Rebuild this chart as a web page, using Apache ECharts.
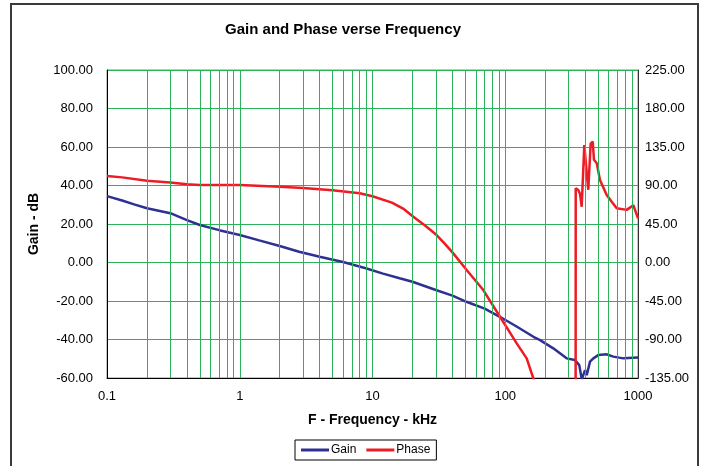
<!DOCTYPE html>
<html>
<head>
<meta charset="utf-8">
<script src="https://cdn.jsdelivr.net/npm/echarts@6/dist/echarts.min.js"></script>
<style>html,body{margin:0;padding:0;background:#fff}#c{width:702px;height:466px}</style>
</head>
<body>
<div id="c"></div>
<script>
const chartTitle = 'Gain and Phase verse Frequency';
const xName = 'F - Frequency - kHz';
const yName = 'Gain - dB';
const minorGrid = [0.2,0.3,0.4,0.5,0.6,0.7,0.8,0.9,1,2,3,4,5,6,7,8,9,10,20,30,40,50,60,70,80,90,100,200,300,400,500,600,700,800,900];

const gainFreq = [0.1, 0.13, 0.16, 0.2, 0.25, 0.3, 0.4, 0.5, 0.7, 1, 1.4, 2, 2.8, 4, 6, 8.9, 12, 16, 20, 30, 40, 51, 70, 91, 120, 163, 183, 230, 290, 335, 361, 377, 399, 411, 435, 461, 502, 581, 652, 775, 1000];
const gainDb   = [34.5, 32.2, 30.2, 28.2, 26.8, 25.6, 22.0, 19.5, 16.8, 14.3, 11.5, 8.6, 5.6, 3.0, 0.3, -3.0, -5.8, -8.2, -10.0, -14.3, -17.2, -20.4, -24.0, -28.2, -33.0, -38.6, -40.3, -44.6, -49.8, -50.7, -53.3, -60.7, -55.9, -58.5, -51.5, -49.8, -48.1, -47.7, -48.9, -49.8, -49.3];

const phaseFreq = [0.1, 0.13, 0.2, 0.3, 0.4, 0.5, 1, 2, 3, 5, 8, 10, 14, 17, 20.3, 25, 30.4, 35, 40.6, 51.2, 68.3, 91.3, 122, 145, 162.7, 166, 339, 339.5, 355, 366, 376.6, 394, 406, 422, 440, 456, 466, 489, 517, 581, 634, 691, 822, 922, 1000];
const phaseDeg  = [101.1, 99.5, 95.6, 93.5, 91.5, 90.6, 90.6, 88.5, 87.2, 84.5, 80.9, 77.5, 70.0, 63.0, 53.5, 43.0, 32.1, 22.0, 10.7, -8.8, -32.2, -63.4, -94.5, -112, -135.3, -140, -140, 86.7, 84.7, 80.0, 65.2, 137.3, 139.0, 85.0, 139.0, 141.2, 120.0, 116.0, 96.4, 79.0, 71.0, 63.4, 61.5, 67.0, 51.7];
const phaseGapAfter = 166; // phase runs off-scale between 166 and 339 kHz

const gainData = gainFreq.map((f, i) => [f, gainDb[i]]);
const phaseData = [];
phaseFreq.forEach((f, i) => {
  phaseData.push([f, phaseDeg[i]]);
  if (f === phaseGapAfter) phaseData.push([f, '-']);
});

const FONT = 'Liberation Sans, Arial, sans-serif';
const green = '#2cb25a';
const chart = echarts.init(document.getElementById('c'));
chart.setOption({
  animation: false,
  backgroundColor: '#fff',
  textStyle: { fontFamily: FONT },
  graphic: [
    { type: 'rect', shape: { x: 11, y: 4, width: 687, height: 480 }, style: { fill: 'none', stroke: '#3a3a3a', lineWidth: 2 }, silent: true, z: -10 },
    { type: 'text', x: 343, y: 30, style: { text: chartTitle, fontSize: 15, fontWeight: 'bold', fontFamily: FONT, fill: '#000', align: 'center', verticalAlign: 'middle' } }
  ],
  grid: { left: 107, top: 70, right: 64, bottom: 88, show: true, borderColor: '#8a8a8a', borderWidth: 1 },
  legend: {
    data: ['Gain', 'Phase'],
    top: 440,
    left: 295,
    itemWidth: 28,
    itemHeight: 3,
    itemGap: 10,
    icon: 'rect',
    borderColor: '#000',
    borderWidth: 1,
    padding: [4, 6, 4, 6],
    borderRadius: 0,
    textStyle: { fontSize: 12, color: '#000', fontFamily: FONT, padding: [0, 0, 0, -3] }
  },
  xAxis: {
    type: 'log', logBase: 10, min: 0.1, max: 1000,
    name: xName, nameLocation: 'middle', nameGap: 35,
    nameTextStyle: { fontSize: 14, fontWeight: 'bold', color: '#000' },
    axisLine: { show: true, onZero: false, lineStyle: { color: '#000', width: 1 } },
    axisTick: { show: false },
    splitLine: { show: false },
    axisLabel: { fontSize: 13, color: '#000', margin: 12, formatter: v => String(+v.toPrecision(3)) }
  },
  yAxis: [
    {
      type: 'value', min: -60, max: 100, interval: 20,
      name: yName, nameLocation: 'middle', nameGap: 66,
      nameTextStyle: { fontSize: 14, fontWeight: 'bold', color: '#000' },
      axisLine: { show: true, lineStyle: { color: '#000', width: 1 } },
      axisTick: { show: false },
      splitLine: { show: true, lineStyle: { color: green, width: 1 } },
      axisLabel: { fontSize: 13, color: '#000', margin: 14, formatter: v => v.toFixed(2) }
    },
    {
      type: 'value', min: -135, max: 225, interval: 45,
      axisLine: { show: true, lineStyle: { color: '#333', width: 1 } },
      axisTick: { show: false },
      splitLine: { show: false },
      axisLabel: { fontSize: 13, color: '#000', margin: 7, formatter: v => v.toFixed(2) }
    }
  ],
  series: [
    {
      name: 'grid', type: 'line', data: [[0.1, 0]], showSymbol: false, symbol: 'none',
      lineStyle: { opacity: 0 }, silent: true, z: 1, legendHoverLink: false,
      markLine: {
        silent: true, symbol: ['none', 'none'], label: { show: false },
        lineStyle: { color: green, width: 1, type: 'solid' },
        data: minorGrid.map(v => ({ xAxis: v }))
      }
    },
    {
      name: 'Gain', type: 'line', yAxisIndex: 0, data: gainData, showSymbol: false, symbol: 'none',
      color: '#2e3192', lineStyle: { color: '#2e3192', width: 2.5 }, z: 3, clip: true
    },
    {
      name: 'Phase', type: 'line', yAxisIndex: 1, data: phaseData, showSymbol: false, symbol: 'none',
      color: '#ed1c24', lineStyle: { color: '#ed1c24', width: 2.5 }, z: 4, clip: true, connectNulls: false
    }
  ]
});
</script>
</body>
</html>
